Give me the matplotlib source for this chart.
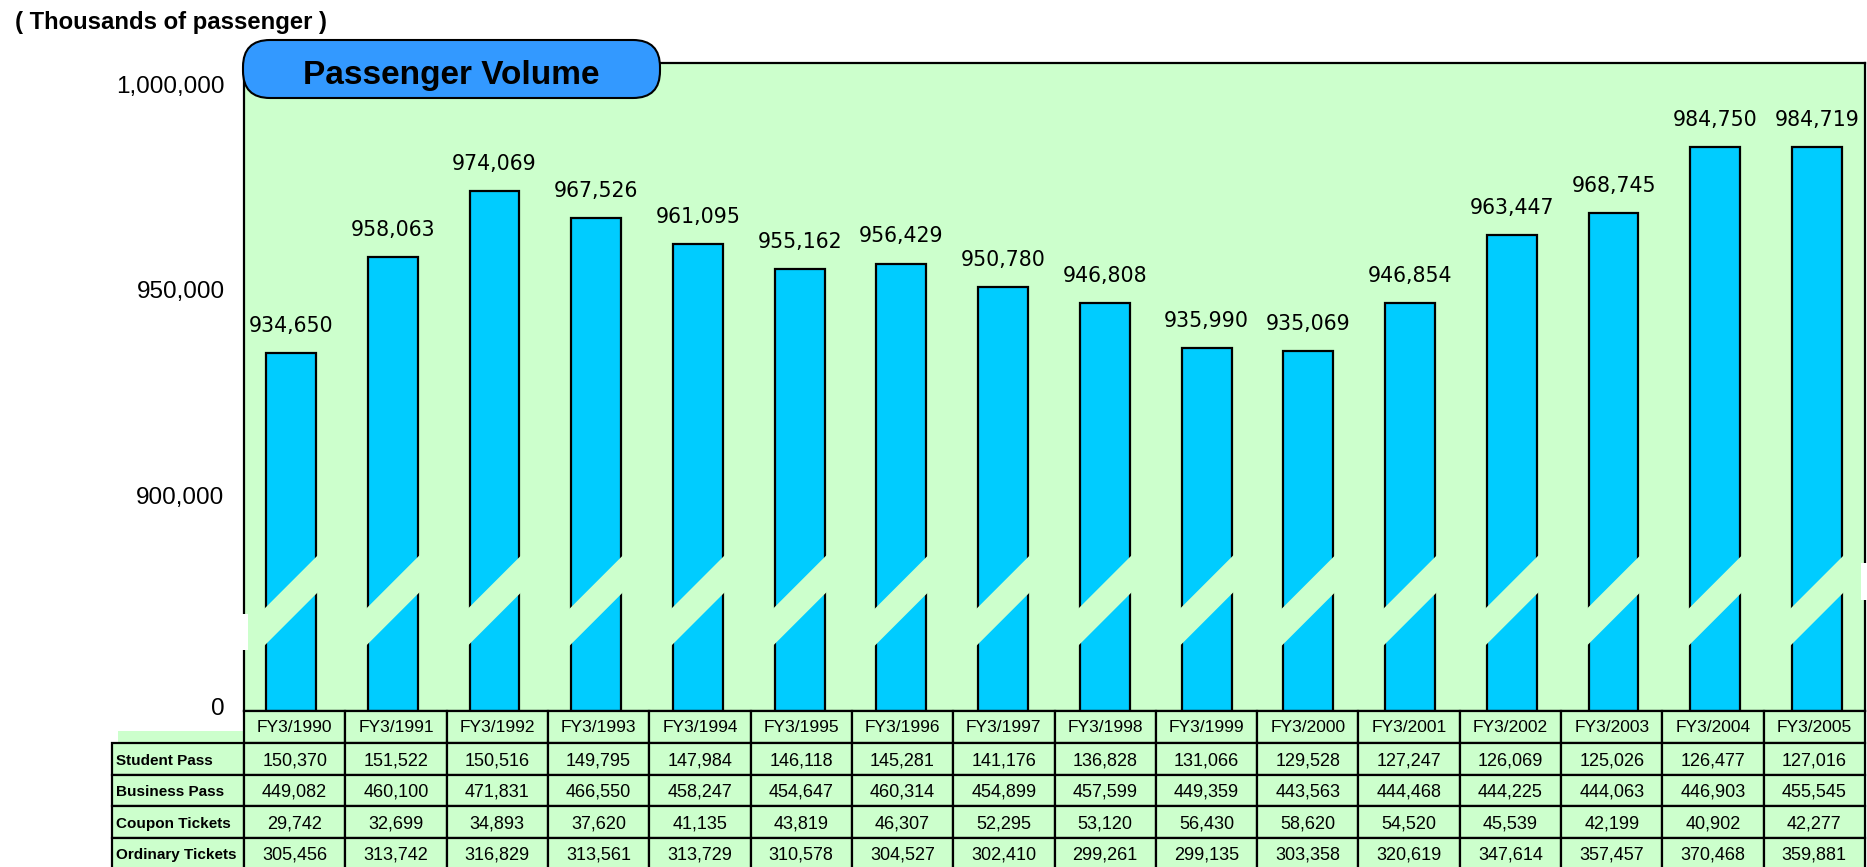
import matplotlib
matplotlib.use('Agg')
import matplotlib.pyplot as plt
from matplotlib.patches import FancyBboxPatch, Rectangle, Polygon

# ---------------- data ----------------
years = ['FY3/1990', 'FY3/1991', 'FY3/1992', 'FY3/1993', 'FY3/1994', 'FY3/1995',
         'FY3/1996', 'FY3/1997', 'FY3/1998', 'FY3/1999', 'FY3/2000', 'FY3/2001',
         'FY3/2002', 'FY3/2003', 'FY3/2004', 'FY3/2005']
totals = [934650, 958063, 974069, 967526, 961095, 955162, 956429, 950780,
          946808, 935990, 935069, 946854, 963447, 968745, 984750, 984719]
student_pass = [150370, 151522, 150516, 149795, 147984, 146118, 145281, 141176,
                136828, 131066, 129528, 127247, 126069, 125026, 126477, 127016]
business_pass = [449082, 460100, 471831, 466550, 458247, 454647, 460314, 454899,
                 457599, 449359, 443563, 444468, 444225, 444063, 446903, 455545]
coupon_tickets = [29742, 32699, 34893, 37620, 41135, 43819, 46307, 52295,
                  53120, 56430, 58620, 54520, 45539, 42199, 40902, 42277]
ordinary_tickets = [305456, 313742, 316829, 313561, 313729, 310578, 304527, 302410,
                    299261, 299135, 303358, 320619, 347614, 357457, 370468, 359881]
row_labels = ['Student Pass', 'Business Pass', 'Coupon Tickets', 'Ordinary Tickets']
row_values = [student_pass, business_pass, coupon_tickets, ordinary_tickets]
ytick_values = [900000, 950000, 1000000]
ytick_labels = ['900,000', '950,000', '1,000,000']

# ---------------- style ----------------
W, H = 1867, 867
BG = '#CCFFCC'
BAR = '#00CCFF'
TITLE_BOX = '#3399FF'
SANS = ['Liberation Sans', 'DejaVu Sans']

fig = plt.figure(figsize=(W / 100, H / 100), dpi=100)
fig.patch.set_facecolor('white')

# main plot area (pixel layout)
px_left, px_right, px_top, px_bottom = 244, 1865, 63, 711
ax = fig.add_axes([px_left / W, 1 - px_bottom / H,
                   (px_right - px_left) / W, (px_bottom - px_top) / H])
ax.set_facecolor(BG)
ax.set_xlim(-0.462, 15.472)
y_lo, y_hi = 847800, 1005100
ax.set_ylim(y_lo, y_hi)

x = list(range(len(years)))
bar_w = 0.49
ax.bar(x, totals, width=bar_w, bottom=0, color=BAR, edgecolor='black',
       linewidth=1.6, zorder=2)

for xi, v in zip(x, totals):
    ax.annotate(f'{v:,}', xy=(xi, v), xytext=(0, 19.5), textcoords='offset points',
                ha='center', va='center', fontsize=14.8, family='DejaVu Sans',
                color='black', zorder=5)

zero_tick = y_lo + 1000
ax.set_yticks([zero_tick] + ytick_values)
ax.set_yticklabels(['0'] + ytick_labels, family=SANS, fontsize=17.5)
ax.set_xticks([])
ax.tick_params(axis='y', length=0, pad=14)
for s in ax.spines.values():
    s.set_linewidth(1.6)
    s.set_color('black')

# overlay in pixel coordinates (y downward)
ov = fig.add_axes([0, 0, 1, 1])
ov.set_xlim(0, W)
ov.set_ylim(H, 0)
ov.axis('off')
ov.patch.set_alpha(0)

fig.canvas.draw()

# break bands across each bar
for xi in x:
    L = ax.transData.transform((xi - bar_w / 2, y_lo))[0]
    R = ax.transData.transform((xi + bar_w / 2, y_lo))[0]
    a, b = L - 4, R + 5
    up0, lo0 = 607, 644
    pts = [(a, up0 - (a - L)), (b, up0 - (b - L)), (b, lo0 - (b - L)), (a, lo0 - (a - L))]
    ov.add_patch(Polygon(pts, closed=True, facecolor=BG, edgecolor='none', zorder=3))

# gaps in left/right spines
ov.add_patch(Rectangle((239, 614), 9, 36, facecolor='white', edgecolor='none', zorder=4))
ov.add_patch(Rectangle((1861, 563), 8, 37, facecolor='white', edgecolor='none', zorder=4))

# title box
ov.add_patch(FancyBboxPatch((243, 40), 417, 58,
                            boxstyle='round,pad=0,rounding_size=27',
                            facecolor=TITLE_BOX, edgecolor='black', linewidth=1.5, zorder=6))
ov.text(451.5, 84, 'Passenger Volume', ha='center', va='baseline', fontsize=24,
        fontweight='bold', family=SANS, color='black', zorder=7)

# unit label
ov.text(15, 29, '( Thousands of passenger )', ha='left', va='baseline', fontsize=17.2,
        fontweight='bold', family=SANS, color='black', zorder=7)

# ---------------- table ----------------
n = len(years)
cw = (px_right - px_left) / n
hdr_top, hdr_h = px_bottom, 32
row_h = 31.5
lab_left = 112
lw = 1.6

ov.add_patch(Rectangle((118, 731), px_left - 118, hdr_top + hdr_h - 731,
                       facecolor=BG, edgecolor='none', zorder=2))
for i, yr in enumerate(years):
    x0 = px_left + i * cw
    ov.add_patch(Rectangle((x0, hdr_top), cw, hdr_h, facecolor=BG, edgecolor='black',
                           linewidth=lw, zorder=2))
    ov.text(x0 + cw / 2, hdr_top + hdr_h / 2 + 1, yr, ha='center', va='center',
            fontsize=12.5, family=SANS, color='black', zorder=3)

for r, (lab, vals) in enumerate(zip(row_labels, row_values)):
    y0 = hdr_top + hdr_h + r * row_h
    ov.add_patch(Rectangle((lab_left, y0), px_left - lab_left, row_h, facecolor=BG,
                           edgecolor='black', linewidth=lw, zorder=2))
    ov.text(lab_left + 4, y0 + row_h / 2 + 2, lab, ha='left', va='center',
            fontsize=11, fontweight='bold', family=SANS, color='black', zorder=3)
    for i, v in enumerate(vals):
        x0 = px_left + i * cw
        ov.add_patch(Rectangle((x0, y0), cw, row_h, facecolor=BG, edgecolor='black',
                               linewidth=lw, zorder=2))
        ov.text(x0 + cw / 2, y0 + row_h / 2 + 2, f'{v:,}', ha='center', va='center',
                fontsize=13, family=SANS, color='black', zorder=3)

fig.savefig('out.png', dpi=100, facecolor='white')
